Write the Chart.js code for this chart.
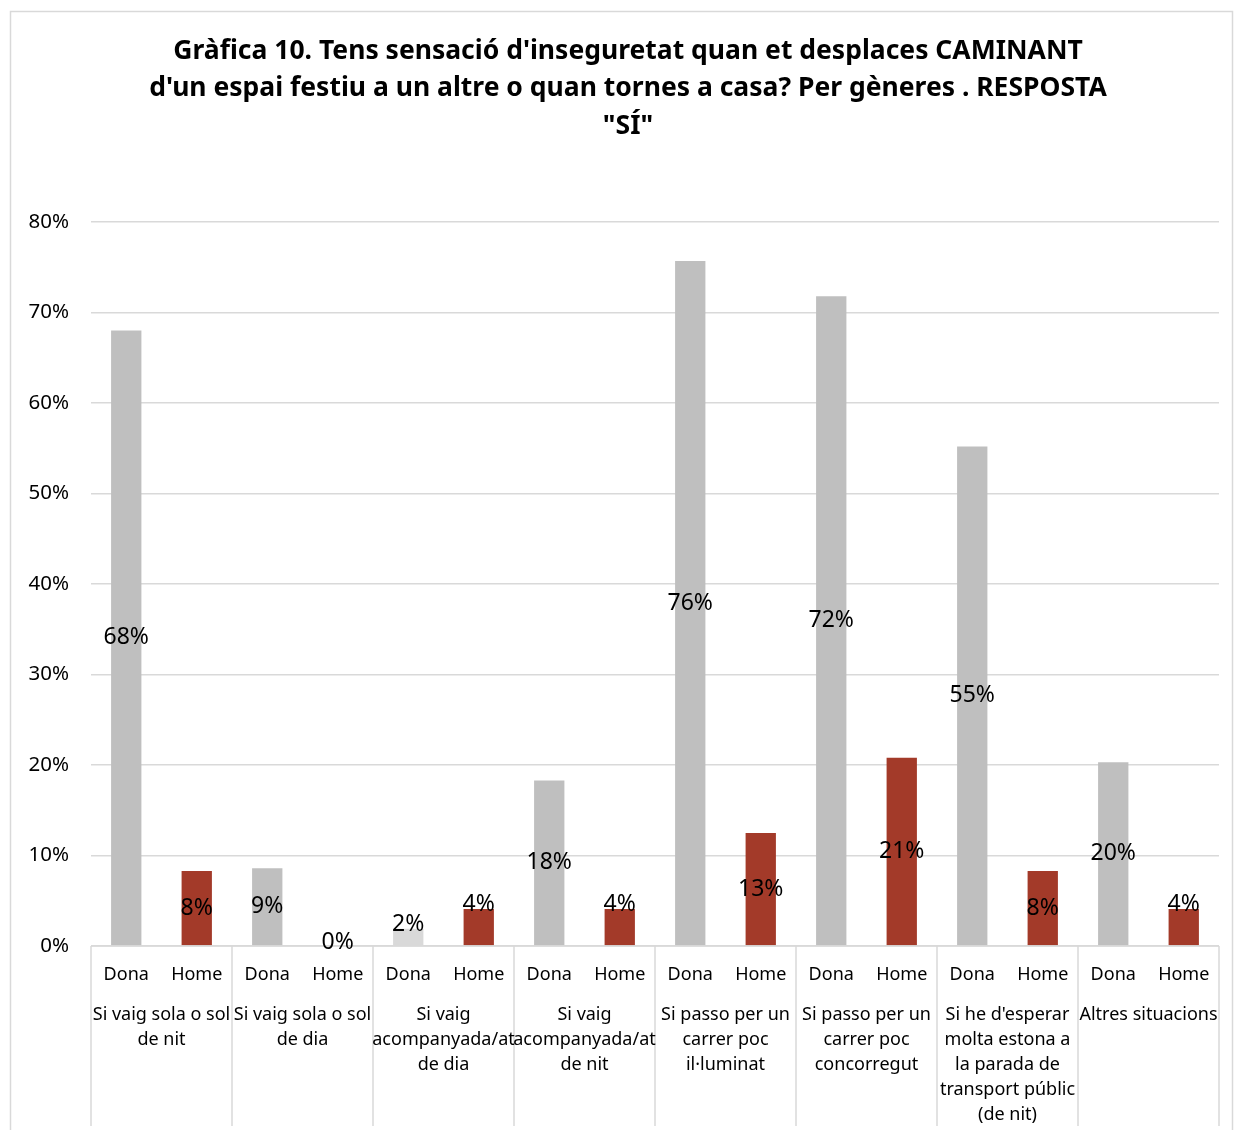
<!DOCTYPE html>
<html>
<head>
<meta charset="utf-8">
<script src="https://cdn.jsdelivr.net/npm/chart.js@4.4.1/dist/chart.umd.min.js"></script>
<style>
  body { margin: 0; background: #fff; }
  #wrap { width: 1235px; height: 1130px; position: relative; }
</style>
</head>
<body>
<div id="wrap"><canvas id="chart"></canvas></div>
<script>
// Data
const titleLines = [
    "Gràfica 10. Tens sensació d'inseguretat quan et desplaces CAMINANT",
    "d'un espai festiu a un altre o quan tornes a casa? Per gèneres . RESPOSTA",
    "\"SÍ\""
];
const groups = [
    ["Si vaig sola o sol", "de nit"],
    ["Si vaig sola o sol", "de dia"],
    ["Si vaig", "acompanyada/at", "de dia"],
    ["Si vaig", "acompanyada/at", "de nit"],
    ["Si passo per un", "carrer poc", "il·luminat"],
    ["Si passo per un", "carrer poc", "concorregut"],
    ["Si he d'esperar", "molta estona a", "la parada de", "transport públic", "(de nit)"],
    ["Altres situacions"]
];
const genders = ["Dona", "Home"];
const dona = [68, 8.6, 1.9, 18.3, 75.7, 71.8, 55.2, 20.3];
const home = [8.3, 0, 4.1, 4.1, 12.5, 20.8, 8.3, 4.1];
const yTicks = [0, 10, 20, 30, 40, 50, 60, 70, 80];

const FONT = "'Noto Sans', sans-serif";
const grayBar = "#bfbfbf";
const redBar = "#a33a29";

// build flat series: Dona, Home per group
const labels = [];
const values = [];
const colors = [];
groups.forEach((g, i) => {
    labels.push(genders[0], genders[1]);
    values.push(dona[i], home[i]);
    colors.push(dona[i] < 5 ? "#d9d9d9" : grayBar, redBar);
});

// frame, title, axis line, group labels and separators
const decorPlugin = {
    id: "decor",
    beforeDraw(chart) {
        const ctx = chart.ctx;
        ctx.save();
        ctx.strokeStyle = "#d9d9d9";
        ctx.lineWidth = 1.5;
        ctx.strokeRect(10.5, 11.5, 1222, 1140);

        ctx.fillStyle = "#000";
        ctx.textAlign = "center";
        ctx.textBaseline = "middle";
        ctx.font = "bold 26.5px " + FONT;
        titleLines.forEach((t, i) => ctx.fillText(t, 628, 51 + i * 37.5));
        ctx.restore();
    },
    afterDraw(chart) {
        const ctx = chart.ctx;
        const x = chart.scales.x;
        const area = chart.chartArea;
        const slot = (x.getPixelForValue(1) - x.getPixelForValue(0));
        ctx.save();
        ctx.strokeStyle = "#d9d9d9";
        ctx.lineWidth = 1.5;
        ctx.beginPath();
        ctx.moveTo(area.left, area.bottom);
        ctx.lineTo(area.right, area.bottom);
        for (let i = 0; i <= groups.length; i++) {
            const px = x.getPixelForValue(i * 2) - slot / 2;
            ctx.moveTo(px, area.bottom);
            ctx.lineTo(px, area.bottom + 180);
        }
        ctx.stroke();

        ctx.fillStyle = "#000";
        ctx.textAlign = "center";
        ctx.textBaseline = "middle";
        ctx.font = "18px " + FONT;
        labels.forEach((l, i) => {
            ctx.fillText(l, x.getPixelForValue(i), area.bottom + 29);
        });
        groups.forEach((g, i) => {
            const cx = (x.getPixelForValue(i * 2) + x.getPixelForValue(i * 2 + 1)) / 2;
            g.forEach((line, j) => {
                ctx.fillText(line, cx, area.bottom + 69 + j * 25);
            });
        });

        // data labels
        ctx.font = "23px " + FONT;
        const meta = chart.getDatasetMeta(0);
        meta.data.forEach((bar, i) => {
            const h = bar.base - bar.y;
            let y = (bar.y + bar.base) / 2;
            if (h < 50) y = bar.y - 4;
            ctx.fillText(Math.round(values[i]) + "%", bar.x, y);
        });
        ctx.restore();
    }
};

new Chart(document.getElementById("chart"), {
    type: "bar",
    data: {
        labels: labels,
        datasets: [{
            data: values,
            backgroundColor: colors,
            barPercentage: 0.43,
            categoryPercentage: 1
        }]
    },
    options: {
        responsive: true,
        maintainAspectRatio: false,
        animation: false,
        layout: { padding: { top: 222, right: 16, left: 0, bottom: 0 } },
        plugins: {
            legend: { display: false },
            tooltip: { enabled: false },
            title: { display: false }
        },
        scales: {
            x: {
                grid: { display: false },
                border: { display: false },
                ticks: { display: false },
                afterFit(scale) { scale.height = 184; }
            },
            y: {
                min: 0,
                max: 80,
                afterBuildTicks(scale) { scale.ticks = yTicks.map(v => ({ value: v })); },
                afterFit(scale) { scale.width = 91; },
                grid: { color: "#d9d9d9", lineWidth: 1.5, drawTicks: false },
                border: { display: false },
                ticks: {
                    color: "#000",
                    padding: 22,
                    font: { family: FONT, size: 20.5 },
                    callback: v => v + "%"
                }
            }
        }
    },
    plugins: [decorPlugin]
});
</script>
</body>
</html>
